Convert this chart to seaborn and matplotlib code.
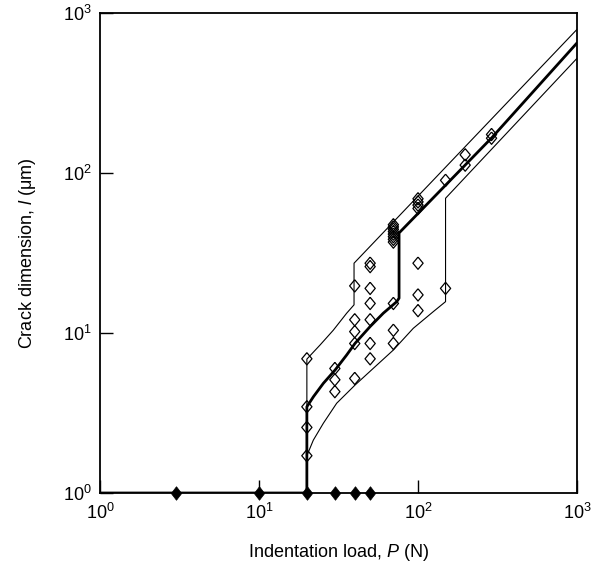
import matplotlib
matplotlib.use('Agg')
import matplotlib.pyplot as plt
import matplotlib.ticker as mticker
import pandas as pd
import seaborn as sns

# Indentation load P (N) vs crack dimension l (um)

# filled diamonds: loads with no crack (sitting on l = 1)
nocrack_P = [3, 10, 20, 30, 40, 50]
nocrack_l = [1, 1, 1, 1, 1, 1]

# open diamonds: measured crack sizes
crack_P = [20, 20, 20, 20,
           30, 30, 30,
           40, 40, 40, 40, 40,
           50, 50, 50, 50, 50, 50, 50,
           70, 70, 70, 70, 70, 70, 70, 70, 70, 70, 70,
           100, 100, 100, 100, 100, 100, 100,
           149, 149,
           198, 198,
           290, 290]
crack_l = [6.9, 3.46, 2.57, 1.71,
           6.0, 5.1, 4.3,
           19.7, 12.1, 10.2, 8.6, 5.2,
           27.3, 26.0, 19.0, 15.3, 12.1, 8.6, 6.9,
           15.3, 10.4, 8.6, 37, 38.5, 40, 41.5, 43, 44.5, 46, 47.5,
           27.3, 17.3, 13.8, 60, 63, 66, 69,
           19.0, 90,
           112, 130,
           165, 174]

# heavy curve (mean behaviour)
mean_P = [1, 20, 20, 22, 25.4, 30.1, 35.6, 40.2, 49.9, 60.5, 73.5, 76, 76, 292, 1000]
mean_l = [1, 1, 3.46, 4.0, 4.85, 5.87, 7.29, 8.62, 10.95, 13.3, 15.7, 16.5, 42.2, 166.7, 650]

# light bounding curves
upper_P = [20, 20, 24.2, 29.3, 35.6, 39.6, 39.6, 1000]
upper_l = [1, 6.87, 8.41, 10.4, 13.3, 15.0, 27.3, 790]

lower_P = [20, 20, 21.96, 25.4, 30.8, 40.2, 52.4, 70, 93.4, 124.8, 149, 149, 1000]
lower_l = [1, 1.71, 2.14, 2.73, 3.64, 4.73, 6.02, 7.83, 10.7, 13.6, 15.7, 69.5, 521]

sns.set_style('ticks')
plt.rcParams['font.family'] = ['Liberation Sans', 'DejaVu Sans']
plt.rcParams['mathtext.fontset'] = 'custom'
plt.rcParams['mathtext.rm'] = 'Liberation Sans'
plt.rcParams['mathtext.it'] = 'Liberation Sans:italic'
for key in ['text.color', 'axes.labelcolor', 'xtick.color', 'ytick.color', 'axes.edgecolor']:
    plt.rcParams[key] = 'black'

fig = plt.figure(figsize=(6.02, 5.72), dpi=100)
ax = fig.add_axes([0.1661, 0.1381, 0.7924, 0.8392])

for px, ly, lw in [(upper_P, upper_l, 0.8), (lower_P, lower_l, 0.8), (mean_P, mean_l, 2.0)]:
    sns.lineplot(x=px, y=ly, sort=False, estimator=None, color='black',
                 linewidth=lw, ax=ax)

open_d = [(0, 1.2), (1, 0), (0, -1.2), (-1, 0), (0, 1.2)]
full_d = [(0, 1.3), (1, 0), (0, -1.3), (-1, 0), (0, 1.3)]

sns.scatterplot(x=crack_P, y=crack_l, marker=open_d, s=78,
                facecolor='none', edgecolor='black', linewidth=0.9, ax=ax, zorder=3)
sns.scatterplot(x=nocrack_P, y=nocrack_l, marker=full_d, s=95,
                color='black', edgecolor='black', linewidth=0.5, ax=ax,
                zorder=4, clip_on=False)

ax.set_xscale('log')
ax.set_yscale('log')
ax.set_xlim(1, 1000)
ax.set_ylim(1, 1000)
ax.xaxis.set_major_locator(mticker.LogLocator(base=10, numticks=10))
ax.yaxis.set_major_locator(mticker.LogLocator(base=10, numticks=10))
ax.xaxis.set_minor_locator(mticker.NullLocator())
ax.yaxis.set_minor_locator(mticker.NullLocator())
ax.tick_params(which='major', direction='in', length=9.5, width=1.0,
               labelsize=13, color='black', labelcolor='black')
ax.tick_params(axis='y', pad=6)
ax.tick_params(axis='x', pad=7)

for side in ['left', 'bottom', 'top', 'right']:
    ax.spines[side].set_visible(True)
    ax.spines[side].set_color('black')
    ax.spines[side].set_linewidth(1.3)

ax.set_xlabel('Indentation load, $\\mathit{P}$ (N)', fontsize=13, labelpad=14)
ax.set_ylabel('Crack dimension, $\\mathit{l}$ (\u03bcm)', fontsize=13, labelpad=18)

fig.savefig('out.png', dpi=100)
